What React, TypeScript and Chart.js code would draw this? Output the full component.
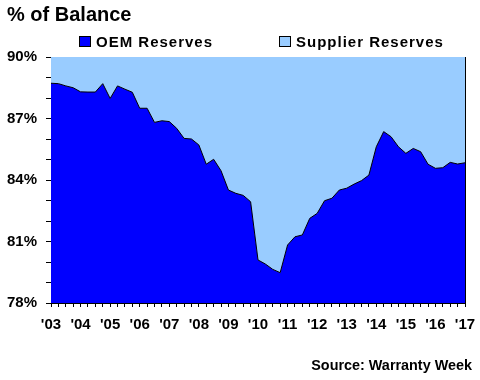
import React, { useEffect, useRef } from "react";
import { Chart, registerables } from "chart.js";

Chart.register(...registerables);

const quarters: string[] = [
  "2003Q1", "2003Q2", "2003Q3", "2003Q4",
  "2004Q1", "2004Q2", "2004Q3", "2004Q4",
  "2005Q1", "2005Q2", "2005Q3", "2005Q4",
  "2006Q1", "2006Q2", "2006Q3", "2006Q4",
  "2007Q1", "2007Q2", "2007Q3", "2007Q4",
  "2008Q1", "2008Q2", "2008Q3", "2008Q4",
  "2009Q1", "2009Q2", "2009Q3", "2009Q4",
  "2010Q1", "2010Q2", "2010Q3", "2010Q4",
  "2011Q1", "2011Q2", "2011Q3", "2011Q4",
  "2012Q1", "2012Q2", "2012Q3", "2012Q4",
  "2013Q1", "2013Q2", "2013Q3", "2013Q4",
  "2014Q1", "2014Q2", "2014Q3", "2014Q4",
  "2015Q1", "2015Q2", "2015Q3", "2015Q4",
  "2016Q1", "2016Q2", "2016Q3", "2016Q4",
  "2017Q1",
];

const yearLabels: string[] = [
  "'03", "'04", "'05", "'06", "'07", "'08", "'09", "'10",
  "'11", "'12", "'13", "'14", "'15", "'16", "'17",
];

const oemReserves: number[] = [
  88.72, 88.70, 88.59, 88.50, 88.30, 88.29, 88.29, 88.70,
  87.98, 88.59, 88.43, 88.28, 87.50, 87.50, 86.81, 86.89,
  86.85, 86.52, 86.03, 86.00, 85.71, 84.77, 85.01, 84.45,
  83.51, 83.35, 83.25, 82.94, 80.10, 79.90, 79.64, 79.48,
  80.83, 81.23, 81.32, 82.13, 82.37, 82.99, 83.11, 83.51,
  83.60, 83.80, 83.97, 84.24, 85.62, 86.36, 86.11, 85.62,
  85.30, 85.54, 85.38, 84.77, 84.57, 84.60, 84.86, 84.78,
  84.84,
];

const supplierReserves: number[] = [
  11.28, 11.30, 11.41, 11.50, 11.70, 11.71, 11.71, 11.30,
  12.02, 11.41, 11.57, 11.72, 12.50, 12.50, 13.19, 13.11,
  13.15, 13.48, 13.97, 14.00, 14.29, 15.23, 14.99, 15.55,
  16.49, 16.65, 16.75, 17.06, 19.90, 20.10, 20.36, 20.52,
  19.17, 18.77, 18.68, 17.87, 17.63, 17.01, 16.89, 16.49,
  16.40, 16.20, 16.03, 15.76, 14.38, 13.64, 13.89, 14.38,
  14.70, 14.46, 14.62, 15.23, 15.43, 15.40, 15.14, 15.22,
  15.16,
];

const OEM_COLOR = "#0000FF";
const SUP_COLOR = "#99CCFF";
const FONT = "Arial, 'Liberation Sans', sans-serif";

export default function App() {
  const ref = useRef<HTMLCanvasElement | null>(null);

  useEffect(() => {
    document.body.style.margin = "0";
    const canvas = ref.current;
    if (!canvas) return;

    const rightBorder = {
      id: "rightBorder",
      afterDatasetsDraw(chart: any) {
        const { ctx, chartArea } = chart;
        ctx.save();
        ctx.strokeStyle = "#000";
        ctx.lineWidth = 1;
        ctx.beginPath();
        ctx.moveTo(Math.round(chartArea.right) + 0.5, chartArea.top);
        ctx.lineTo(Math.round(chartArea.right) + 0.5, chartArea.bottom);
        ctx.stroke();
        ctx.restore();
      },
    };

    const chart = new Chart(canvas, {
      type: "line",
      data: {
        labels: quarters,
        datasets: [
          {
            label: "OEM Reserves",
            data: oemReserves,
            borderColor: "#000",
            borderWidth: 1,
            backgroundColor: OEM_COLOR,
            fill: "start",
            pointRadius: 0,
            tension: 0,
          },
          {
            label: "Supplier Reserves",
            data: supplierReserves,
            borderWidth: 0,
            borderColor: SUP_COLOR,
            backgroundColor: SUP_COLOR,
            fill: "-1",
            pointRadius: 0,
            tension: 0,
          },
        ],
      },
      options: {
        responsive: false,
        animation: false,
        devicePixelRatio: 1,
        layout: { padding: { top: 57, right: 15, bottom: 37, left: 0 } },
        plugins: {
          legend: { display: false },
          title: { display: false },
          tooltip: { enabled: false },
        },
        scales: {
          x: {
            type: "category",
            offset: false,
            afterFit: (scale: any) => {
              scale.paddingRight = 0;
              scale.paddingLeft = 0;
            },
            grid: {
              display: true,
              drawOnChartArea: false,
              drawTicks: true,
              tickLength: 4,
              color: "#000",
            },
            border: { display: true, color: "#000", width: 1 },
            ticks: {
              autoSkip: false,
              maxRotation: 0,
              minRotation: 0,
              padding: 9,
              color: "#000",
              font: { family: FONT, size: 15, weight: "bold" },
              callback: (_v: any, i: number) =>
                i % 4 === 0 ? yearLabels[i / 4] : "",
            },
          },
          y: {
            stacked: true,
            min: 78,
            max: 90,
            afterFit: (scale: any) => {
              scale.width = 51;
            },
            grid: {
              display: true,
              drawOnChartArea: false,
              drawTicks: true,
              tickLength: 5,
              color: "#000",
            },
            border: { display: true, color: "#000", width: 1 },
            ticks: {
              stepSize: 1,
              autoSkip: false,
              padding: 9,
              color: "#000",
              font: { family: FONT, size: 15, weight: "bold" },
              callback: (v: any) =>
                Math.round(Number(v) - 78) % 3 === 0 ? `${Math.round(Number(v))}%` : "",
            },
          },
        },
      },
      plugins: [rightBorder],
    });

    return () => chart.destroy();
  }, []);

  const legendText: React.CSSProperties = {
    position: "absolute",
    top: 34,
    fontFamily: FONT,
    fontWeight: "bold",
    fontSize: 15,
    lineHeight: "15px",
    letterSpacing: "1px",
    whiteSpace: "nowrap",
    color: "#000",
  };
  const box: React.CSSProperties = {
    position: "absolute",
    top: 36,
    width: 10,
    height: 9,
    border: "1px solid #000",
  };

  return (
    <div style={{ position: "relative", width: 480, height: 380, background: "#fff" }}>
      <canvas ref={ref} width={480} height={380} style={{ position: "absolute", left: 0, top: 0 }} />
      <div
        style={{
          position: "absolute",
          left: 7,
          top: 4,
          fontFamily: FONT,
          fontWeight: "bold",
          fontSize: 20,
          lineHeight: "20px",
          whiteSpace: "nowrap",
          color: "#000",
        }}
      >
        % of Balance
      </div>
      <div style={{ ...box, left: 79, background: OEM_COLOR }} />
      <div style={{ ...legendText, left: 96 }}>OEM Reserves</div>
      <div style={{ ...box, left: 279, background: SUP_COLOR }} />
      <div style={{ ...legendText, left: 296 }}>Supplier Reserves</div>
      <div
        style={{
          position: "absolute",
          right: 8,
          top: 358,
          fontFamily: FONT,
          fontWeight: "bold",
          fontSize: 14.4,
          lineHeight: "14px",
          whiteSpace: "nowrap",
          color: "#000",
        }}
      >
        Source: Warranty Week
      </div>
    </div>
  );
}
